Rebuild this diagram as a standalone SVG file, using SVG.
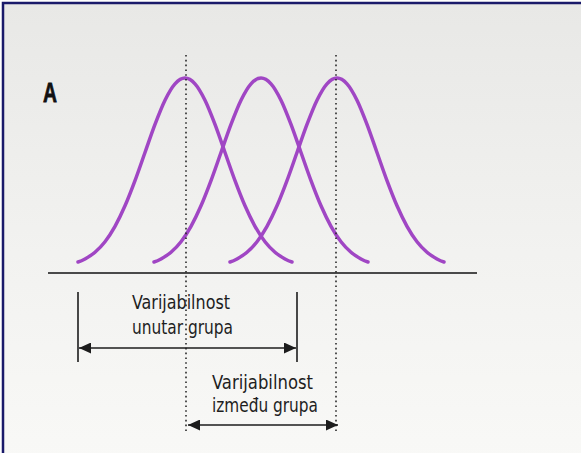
<svg xmlns="http://www.w3.org/2000/svg" width="581" height="453" viewBox="0 0 581 453">
<defs>
<linearGradient id="bg" x1="0" y1="0" x2="0" y2="1">
<stop offset="0" stop-color="#e8e8e6"/>
<stop offset="0.5" stop-color="#f2f2f0"/>
<stop offset="1" stop-color="#fafaf8"/>
</linearGradient>
<marker id="ah" markerUnits="userSpaceOnUse" markerWidth="12" markerHeight="11" refX="12" refY="5.5" orient="auto-start-reverse">
<path d="M0,0 L12,5.5 L0,11 z" fill="#1c1c1c"/>
</marker>
<path id="bell" d="M-107,184 C-104.67,183.33 -102.83,182.63 -100,181 C-97.17,179.37 -93.33,177.08 -90,174.2 C-86.67,171.32 -83.33,168.02 -80,163.7 C-76.67,159.38 -73.33,154.28 -70,148.3 C-66.67,142.32 -63.33,135.42 -60,127.8 C-56.67,120.18 -53.33,111.48 -50,102.6 C-46.67,93.72 -43.33,83.87 -40,74.5 C-36.67,65.13 -33.33,55.12 -30,46.4 C-26.67,37.68 -23.33,28.97 -20,22.2 C-16.67,15.43 -13.33,9.5 -10,5.8 C-6.67,2.1 -3.33,0 0,0 C3.33,0 6.67,2.1 10,5.8 C13.33,9.5 16.67,15.43 20,22.2 C23.33,28.97 26.67,37.68 30,46.4 C33.33,55.12 36.67,65.13 40,74.5 C43.33,83.87 46.67,93.72 50,102.6 C53.33,111.48 56.67,120.18 60,127.8 C63.33,135.42 66.67,142.32 70,148.3 C73.33,154.28 76.67,159.38 80,163.7 C83.33,168.02 86.67,171.32 90,174.2 C93.33,177.08 97.17,179.37 100,181 C102.83,182.63 104.67,183.33 107,184"/>
</defs>
<style>
.curve{fill:none;stroke:#a046c4;stroke-width:3.5;stroke-linecap:round}
.dot{stroke:#2a2a2a;stroke-width:1.6;stroke-dasharray:1.6 3.2}
.ln{stroke:#1c1c1c;stroke-width:1.6;fill:none}
.lbl{font-family:"DejaVu Sans","Liberation Sans",sans-serif;font-stretch:condensed;font-size:20px;fill:#1e1e1e}
</style>
<rect x="0" y="0" width="581" height="453" fill="#ffffff"/>
<rect x="3" y="3" width="620" height="500" fill="url(#bg)" stroke="#1a1a6a" stroke-width="2.5"/>
<g id="label-A">
<text x="43" y="102" font-family="Liberation Sans, sans-serif" font-weight="bold" font-size="28" textLength="14" lengthAdjust="spacingAndGlyphs" fill="#111" stroke="#111" stroke-width="0.8">A</text>
</g>
<g id="curves">
<use href="#bell" class="curve" transform="translate(185,78)"/>
<use href="#bell" class="curve" transform="translate(261,78)"/>
<use href="#bell" class="curve" transform="translate(337,78)"/>
</g>
<g id="axis">
<line x1="48" y1="273" x2="477" y2="273" stroke="#4a4a4a" stroke-width="2"/>
</g>
<g id="guides">
<line class="dot" x1="186" y1="55" x2="186" y2="434"/>
<line class="dot" x1="336" y1="55" x2="336" y2="434"/>
</g>
<g id="within">
<line class="ln" x1="78" y1="292" x2="78" y2="362"/>
<line class="ln" x1="297" y1="292" x2="297" y2="362"/>
<text class="lbl" x="132" y="309" textLength="98" lengthAdjust="spacingAndGlyphs">Varijabilnost</text>
<text class="lbl" x="132" y="334" textLength="101" lengthAdjust="spacingAndGlyphs">unutar grupa</text>
</g>
<g id="between">
<text class="lbl" x="212" y="389" textLength="101" lengthAdjust="spacingAndGlyphs">Varijabilnost</text>
<text class="lbl" x="212" y="412" textLength="106" lengthAdjust="spacingAndGlyphs">između grupa</text>
</g>
<g id="connectors">
<line class="ln" x1="79" y1="348" x2="296" y2="348" marker-start="url(#ah)" marker-end="url(#ah)"/>
<line class="ln" x1="188" y1="425" x2="338" y2="425" marker-start="url(#ah)" marker-end="url(#ah)"/>
</g>
</svg>
